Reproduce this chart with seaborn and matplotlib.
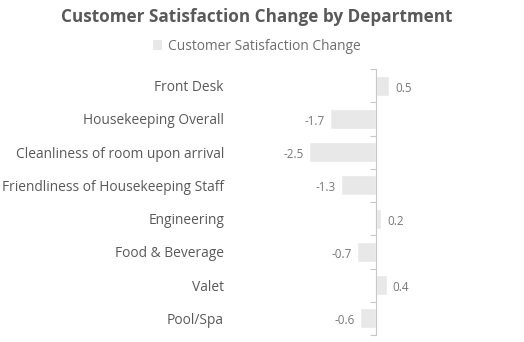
import matplotlib
matplotlib.use("Agg")
import matplotlib.pyplot as plt
import seaborn as sns
import pandas as pd
from matplotlib.ticker import FixedLocator
from matplotlib.patches import Patch

departments = ["Front Desk", "Housekeeping Overall", "Cleanliness of room upon arrival",
               "Friendliness of Housekeeping Staff", "Engineering", "Food & Beverage",
               "Valet", "Pool/Spa"]
changes = [0.5, -1.7, -2.5, -1.3, 0.2, -0.7, 0.4, -0.6]
series_name = "Customer Satisfaction Change"
title = "Customer Satisfaction Change by Department"

df = pd.DataFrame({"Department": departments, "Change": changes})

sns.set_theme(style="white")
plt.rcParams['font.family'] = ['Open Sans', 'DejaVu Sans']

W, H = 524, 342
fig = plt.figure(figsize=(W / 100, H / 100), dpi=100)
ax = fig.add_axes([0, (H - 335) / H, 1, (335 - 69) / H])

bar_color = "#e8e8e8"
sns.barplot(data=df, x="Change", y="Department", orient="h", color=bar_color,
            width=0.6, ax=ax, saturation=1)

px_per_unit = 26.8
ax.set_xlim(-376 / px_per_unit, (W - 376) / px_per_unit)
ax.set_ylim(len(departments) - 0.5, -0.5)

for s in ["top", "right", "bottom"]:
    ax.spines[s].set_visible(False)
ax.spines["left"].set_position(("data", 0))
ax.spines["left"].set_color("#c8c8c8")
ax.spines["left"].set_linewidth(0.8)

ax.set_xticks([])
ax.set_xlabel("")
ax.set_ylabel("")
ax.yaxis.set_minor_locator(FixedLocator([i - 0.5 for i in range(len(departments) + 1)]))
ax.tick_params(axis="y", which="major", length=0, pad=152 * 0.72,
               labelsize=9.9, labelcolor="#595959")
ax.tick_params(axis="y", which="minor", length=4.5, width=0.8, color="#c8c8c8",
               direction="out", left=True)

texts = ax.bar_label(ax.containers[0], labels=[f"{v:g}" for v in changes], padding=4,
                     fontsize=8.4, color="#777777")
for t in texts:
    t.xyann = (t.xyann[0], -1.8)

fig.suptitle(title, x=0.49, y=1 - 17 / H, va="center", fontsize=12.3,
             fontweight="bold", color="#595959")
handle = Patch(facecolor=bar_color, edgecolor="none")
leg = fig.legend([handle], [series_name], loc="center", bbox_to_anchor=(0.49, 1 - 46 / H),
                 frameon=False, fontsize=9.9, handlelength=0.7, handleheight=0.7,
                 handletextpad=0.4, labelcolor="#6e6e6e")

fig.savefig("out.png", dpi=100, facecolor="white")
